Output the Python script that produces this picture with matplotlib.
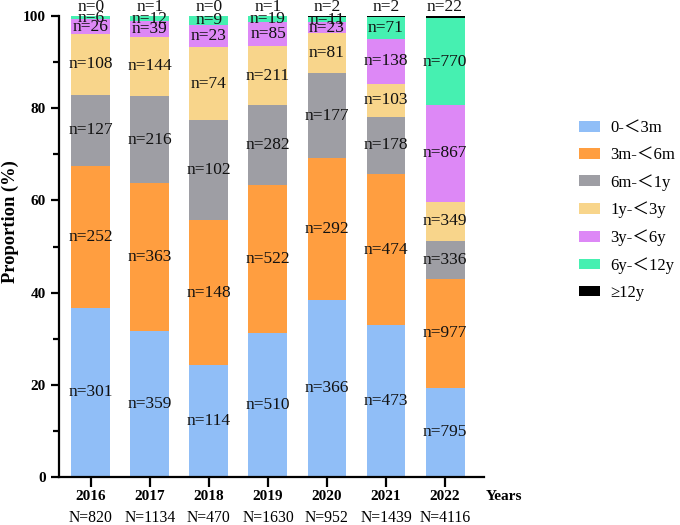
import matplotlib
matplotlib.use("Agg")
import matplotlib.pyplot as plt
import numpy as np
from matplotlib.ticker import MultipleLocator

plt.rcParams['font.family'] = ['Liberation Serif', 'DejaVu Serif']

years = ["2016", "2017", "2018", "2019", "2020", "2021", "2022"]
totals = [820, 1134, 470, 1630, 952, 1439, 4116]
categories = ["0-\uff1c3m", "3m-\uff1c6m", "6m-\uff1c1y", "1y-\uff1c3y", "3y-\uff1c6y", "6y-\uff1c12y", "\u226512y"]
c_0_3m = [301, 359, 114, 510, 366, 473, 795]
c_3m_6m = [252, 363, 148, 522, 292, 474, 977]
c_6m_1y = [127, 216, 102, 282, 177, 178, 336]
c_1y_3y = [108, 144, 74, 211, 81, 103, 349]
c_3y_6y = [26, 39, 23, 85, 23, 138, 867]
c_6y_12y = [6, 12, 9, 19, 11, 71, 770]
c_12y = [0, 1, 0, 1, 2, 2, 22]
colors = ["#90BEF7", "#FF9E40", "#9E9EA4", "#F8D58B", "#DD88F6", "#46F0B1", "#000000"]

series = [c_0_3m, c_3m_6m, c_6m_1y, c_1y_3y, c_3y_6y, c_6y_12y, c_12y]

W, H = 680, 525
fig = plt.figure(figsize=(6.8, 5.25), dpi=100)
ax = fig.add_axes([59 / W, (H - 477) / H, (484 - 59) / W, (477 - 16) / H])

x = np.arange(len(years))
tot = np.array(totals, dtype=float)
bottom = np.zeros(len(years))
for k, (vals, col, lab) in enumerate(zip(series, colors, categories)):
    pct = np.array(vals) / tot * 100
    ax.bar(x, pct, bottom=bottom, width=0.66, color=col, label=lab, edgecolor='none')
    for i in range(len(years)):
        if k == len(series) - 1:
            yy = 101.9
        else:
            yy = bottom[i] + pct[i] / 2
        ax.text(x[i], yy, f"n={vals[i]}", ha='center', va='center', fontsize=12.5,
                color='#111111', clip_on=False)
    bottom += pct

ax.set_xlim(-0.54, 6.66)
ax.set_ylim(0, 100)
ax.yaxis.set_major_locator(MultipleLocator(20))
ax.yaxis.set_minor_locator(MultipleLocator(10))
ax.set_xticks(x)
ax.set_xticklabels([""] * len(years))
for i in range(len(years)):
    ax.text(x[i], -2.9, years[i], ha='center', va='top', fontsize=11, fontweight='bold')
    ax.text(x[i], -7.2, f"N={totals[i]}", ha='center', va='top', fontsize=11.3)
fig.text(486 / W, 1 - 497 / H, "Years", ha='left', va='center', fontsize=11, fontweight='bold')

for s in ['top', 'right']:
    ax.spines[s].set_visible(False)
for s in ['left', 'bottom']:
    ax.spines[s].set_linewidth(1.6)
ax.tick_params(axis='both', which='major', direction='out', length=6, width=1.6, labelsize=11)
ax.tick_params(axis='y', which='minor', direction='out', length=4, width=1.6)
ax.tick_params(axis='x', which='major', length=7)
for lbl in ax.get_yticklabels():
    lbl.set_fontweight('bold')
fig.text(10 / W, 1 - 222 / H, "Proportion (%)", rotation=90, ha='center', va='center',
         fontsize=13.3, fontweight='bold')

handles, labels = ax.get_legend_handles_labels()
leg = fig.legend(handles, labels, loc='upper left', bbox_to_anchor=(0.829, 0.80),
                 frameon=False, handlelength=1.3, handleheight=0.62,
                 labelspacing=0.66, handletextpad=0.6,
                 prop={'family': ['Liberation Serif', 'Noto Sans CJK SC'], 'size': 12})

fig.savefig("out.png", dpi=100)
